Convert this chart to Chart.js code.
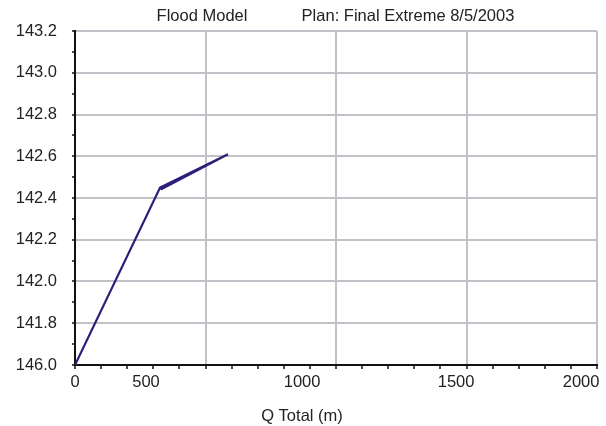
<!DOCTYPE html>
<html>
<head>
<meta charset="utf-8">
<script src="https://cdn.jsdelivr.net/npm/chart.js@4/dist/chart.umd.min.js"></script>
<style>
  html, body { margin: 0; padding: 0; background: #ffffff; }
  #wrap { width: 606px; height: 426px; position: relative; }
</style>
</head>
<body>
<div id="wrap"><canvas id="c" width="606" height="426"></canvas></div>
<script>
// ---- data ----
const qTotal = [0, 326, 586, 328];
const wsElev = [141.6, 142.45, 142.61, 142.441];
const yTickLabels = ['146.0', '141.8', '142.0', '142.2', '142.4', '142.6', '142.8', '143.0', '143.2'];
const xLabelValues = [0, 272, 870, 1460, 1939];
const xLabelTexts = ['0', '500', '1000', '1500', '2000'];
const titleLeft = 'Flood Model';
const titleRight = 'Plan: Final Extreme 8/5/2003';
const xAxisTitle = 'Q Total (m)';

const FONT = '"Liberation Sans", Arial, sans-serif';
const TXT = '#222222';
const GRID = '#bfc3c8';

const points = qTotal.map((q, i) => ({ x: q, y: wsElev[i] }));

const textPlugin = {
  id: 'texts',
  afterDraw(chart) {
    const ctx = chart.ctx;
    ctx.save();
    ctx.fillStyle = TXT;
    ctx.font = '16.5px ' + FONT;
    ctx.textAlign = 'center';
    ctx.textBaseline = 'middle';
    ctx.fillText(titleLeft, 202, 16);
    ctx.fillText(titleRight, 408, 16);
    ctx.fillText(xAxisTitle, 302, 416);
    ctx.restore();
  }
};

new Chart(document.getElementById('c'), {
  type: 'scatter',
  data: {
    datasets: [{
      data: points,
      showLine: true,
      borderColor: '#2a1f7a',
      borderWidth: 2.2,
      pointRadius: 0,
      fill: false,
      tension: 0
    }]
  },
  options: {
    responsive: false,
    animation: false,
    layout: { padding: { top: 31, right: 9, left: 0, bottom: 0 } },
    plugins: { legend: { display: false }, tooltip: { enabled: false }, title: { display: false } },
    scales: {
      x: {
        type: 'linear', position: 'bottom', weight: 0,
        min: 0, max: 2000,
        afterBuildTicks(scale) {
          const t = [];
          for (let v = 0; v <= 2000; v += 100) t.push({ value: v });
          scale.ticks = t;
        },
        ticks: { display: false },
        grid: {
          color: (c) => {
            const v = Math.round(c.tick.value);
            return (v !== 0 && v % 500 === 0) ? GRID : 'rgba(0,0,0,0)';
          },
          lineWidth: 2,
          drawTicks: true,
          tickLength: 4,
          tickColor: '#111',
          tickWidth: 1.5
        },
        border: { display: true, color: '#111', width: 2 },
        afterFit(scale) { scale.height = 4; }
      },
      x2: {
        type: 'linear', position: 'bottom', weight: 1,
        min: 0, max: 2000,
        afterBuildTicks(scale) {
          scale.ticks = xLabelValues.map(v => ({ value: v }));
        },
        ticks: {
          autoSkip: false, maxRotation: 0, padding: 4,
          color: TXT, font: { family: FONT, size: 16.5 },
          callback: (v, i) => xLabelTexts[i]
        },
        grid: { display: false, drawTicks: false },
        border: { display: false },
        afterFit(scale) { scale.height = 57; }
      },
      y: {
        type: 'linear', position: 'left',
        min: 141.6, max: 143.2,
        afterBuildTicks(scale) {
          const t = [];
          for (let i = 0; i <= 16; i++) t.push({ value: 141.6 + i * 0.1 });
          scale.ticks = t;
        },
        ticks: {
          autoSkip: false, padding: 15,
          color: TXT, font: { family: FONT, size: 16.5 },
          callback: (v, i) => (i % 2 === 0 ? yTickLabels[i / 2] : '')
        },
        grid: {
          color: (c) => (c.index % 2 === 0 && c.index !== 0) ? GRID : 'rgba(0,0,0,0)',
          lineWidth: 2,
          drawTicks: true,
          tickLength: 3,
          tickColor: '#111',
          tickWidth: 1.5
        },
        border: { display: true, color: '#111', width: 2 },
        afterFit(scale) { scale.width = 75; }
      }
    }
  },
  plugins: [textPlugin]
});
</script>
</body>
</html>
